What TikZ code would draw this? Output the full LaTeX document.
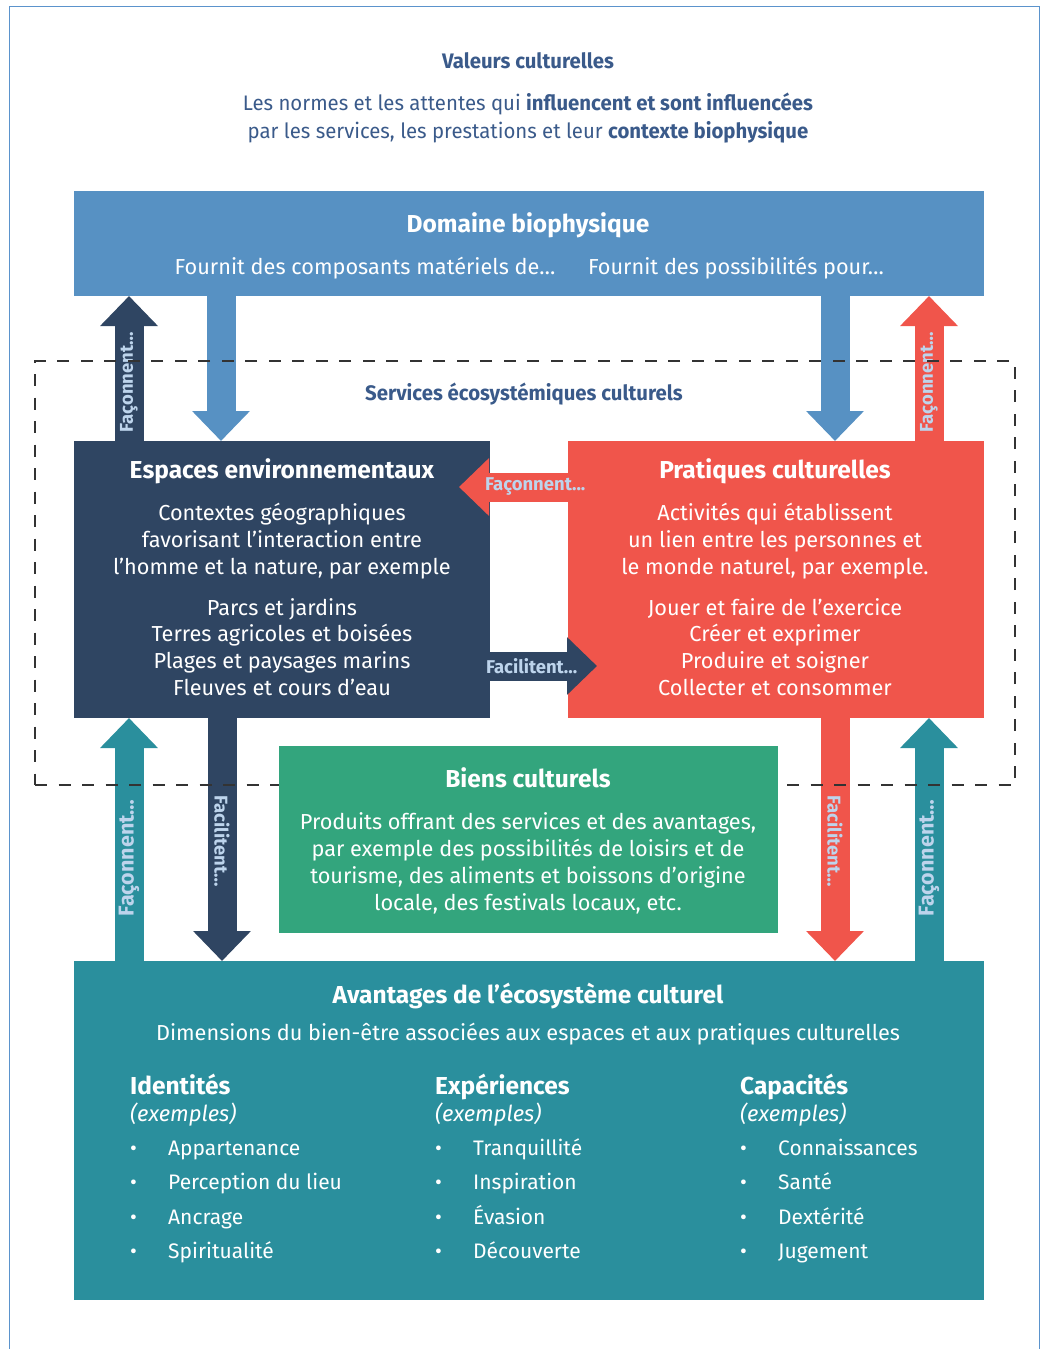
\documentclass[tikz,border=0pt]{standalone}
\usepackage{fontspec}
\setmainfont{Fira Sans}
\newfontfamily\condfont[FakeStretch=0.97]{Fira Sans}
\usetikzlibrary{arrows.meta,calc}
\definecolor{domblue}{HTML}{5791C3}
\definecolor{navy}{HTML}{2F4562}
\definecolor{redc}{HTML}{F0554B}
\definecolor{tealc}{HTML}{2A8F9D}
\definecolor{greenc}{HTML}{33A57D}
\definecolor{labcol}{HTML}{BDD4EC}
\definecolor{dtxt}{HTML}{3A5A8A}
\definecolor{framecol}{HTML}{5B93CC}
\begin{document}
\begin{tikzpicture}[x=1pt,y=-1pt,
  box/.style={draw=none,anchor=north west,inner sep=0pt,outer sep=0pt},
  ttl/.style={text=white,font=\fontsize{24.5}{28}\selectfont\bfseries,anchor=base,inner sep=0pt},
  txt/.style={text=white,font=\fontsize{21.7}{27}\selectfont,anchor=base,inner sep=0pt},
  txtl/.style={txt,anchor=base west},
  itm/.style={txtl,font=\fontsize{21}{27}\selectfont},
  toptxt/.style={text=dtxt,font=\fontsize{21}{24}\selectfont\condfont,anchor=base,inner sep=0pt},
  blk/.style={line width=29pt,-{Triangle[length=30pt,width=56pt]}},
  lab/.style={text=labcol,font=\fontsize{18.5}{20}\selectfont\bfseries,inner sep=0pt,outer sep=0pt},
  labbig/.style={lab,font=\fontsize{21.5}{24}\selectfont\bfseries}
]
\useasboundingbox (0,0) rectangle (1041,1349);
\draw[framecol,line width=1pt] (9,1349) -- (9,6) -- (1039,6) -- (1039,1349);

% top texts
\node[toptxt,font=\fontsize{21}{24}\selectfont\condfont\bfseries] (val) at (528,68) {Valeurs culturelles};
\node[toptxt] (val1) at (528,110) {Les normes et les attentes qui \textbf{influencent et sont influencées}};
\node[toptxt] (val2) at (528,138) {par les services, les prestations et leur \textbf{contexte biophysique}};

% boxes
\node[box,fill=domblue,minimum width=910pt,minimum height=105pt] (dom) at (74,191) {};
\node[box,fill=navy,minimum width=416pt,minimum height=277pt] (esp) at (74,441) {};
\node[box,fill=redc,minimum width=416pt,minimum height=277pt] (prat) at (568,441) {};
\node[box,fill=tealc,minimum width=910pt,minimum height=339pt] (tea) at (74,961) {};

% Domaine texts
\node[ttl] (domt) at (528,232) {Domaine biophysique};
\node[txt] (doma) at (365,274) {Fournit des composants matériels de…};
\node[txt] (domb) at (736,274) {Fournit des possibilités pour…};

% Espaces texts
\node[ttl] (espt) at (282,478) {Espaces environnementaux};
\foreach \t [count=\i] in {{Contextes géographiques},{favorisant l’interaction entre},{l’homme et la nature, par exemple}}
  \node[txt] (espa\i) at (282,{520+27*(\i-1)}) {\t};
\foreach \t [count=\i] in {{Parcs et jardins},{Terres agricoles et boisées},{Plages et paysages marins},{Fleuves et cours d’eau}}
  \node[txt] (espb\i) at (282,{615+26.7*(\i-1)}) {\t};

% Pratiques texts
\node[ttl] (pratt) at (775,478) {Pratiques culturelles};
\foreach \t [count=\i] in {{Activités qui établissent},{un lien entre les personnes et},{le monde naturel, par exemple.}}
  \node[txt] (prata\i) at (775,{520+27*(\i-1)}) {\t};
\foreach \t [count=\i] in {{Jouer et faire de l’exercice},{Créer et exprimer},{Produire et soigner},{Collecter et consommer}}
  \node[txt] (pratb\i) at (775,{615+26.7*(\i-1)}) {\t};

% arrows between domain and boxes
\coordinate (a1s) at ($(esp.north west)+(55,0)$);
\coordinate (a1e) at ($(dom.south west)+(55,0)$);
\draw[blk,navy] (a1s) -- (a1e) node[lab,pos=0.06,rotate=90,anchor=west] (l1) {Façonnent…};
\coordinate (a2s) at ($(dom.south west)+(147,0)$);
\coordinate (a2e) at ($(esp.north west)+(147,0)$);
\draw[blk,domblue] (a2s) -- (a2e);
\coordinate (a3s) at ($(dom.south west)+(761,0)$);
\coordinate (a3e) at ($(prat.north west)+(267,0)$);
\draw[blk,domblue] (a3s) -- (a3e);
\coordinate (a4s) at ($(prat.north west)+(361,0)$);
\coordinate (a4e) at ($(dom.south west)+(855,0)$);
\draw[blk,redc] (a4s) -- (a4e) node[lab,pos=0.06,rotate=90,anchor=west] (l4) {Façonnent…};

% horizontal arrows
\coordinate (a5s) at ($(prat.north west)+(0,46)$);
\coordinate (a5e) at ($(esp.north east)+(-31,46)$);
\draw[blk,redc] (a5s) -- (a5e) node[lab,pos=0.3] (l5) {Façonnent...};
\coordinate (a6s) at ($(esp.north east)+(0,225)$);
\coordinate (a6e) at ($(prat.north west)+(29,225)$);
\draw[blk,navy] (a6s) -- (a6e) node[lab,pos=0.39] (l6) {Facilitent...};

% bottom arrows
\coordinate (a7s) at ($(tea.north west)+(55,0)$);
\coordinate (a7e) at ($(esp.south west)+(55,0)$);
\draw[blk,tealc] (a7s) -- (a7e) node[labbig,pos=0.185,rotate=90,anchor=west] (l7) {Façonnent…};
\coordinate (a8s) at ($(esp.south west)+(148,0)$);
\coordinate (a8e) at ($(tea.north west)+(148,0)$);
\draw[blk,navy] (a8s) -- (a8e) node[lab,pos=0.32,rotate=-90,anchor=west] (l8) {Facilitent…};
\coordinate (a9s) at ($(prat.south west)+(267,0)$);
\coordinate (a9e) at ($(tea.north west)+(761,0)$);
\draw[blk,redc] (a9s) -- (a9e) node[lab,pos=0.32,rotate=-90,anchor=west] (l9) {Facilitent…};
\coordinate (a10s) at ($(tea.north west)+(855,0)$);
\coordinate (a10e) at ($(prat.south west)+(361,0)$);
\draw[blk,tealc] (a10s) -- (a10e) node[labbig,pos=0.185,rotate=90,anchor=west] (l10) {Façonnent…};

% dashed services frame
\node[box,draw=black!80,line width=1.2pt,dash pattern=on 12pt off 11.5pt,minimum width=980pt,minimum height=424pt] (serv) at (35,361) {};
\node[toptxt,font=\fontsize{21}{24}\selectfont\condfont\bfseries] (servt) at (524,400) {Services écosystémiques culturels};

% green box
\node[box,fill=greenc,minimum width=499pt,minimum height=187pt] (bien) at (279,746) {};
\node[ttl] (bient) at (528,787) {Biens culturels};
\foreach \t [count=\i] in {{Produits offrant des services et des avantages,},{par exemple des possibilités de loisirs et de},{tourisme, des aliments et boissons d’origine},{locale, des festivals locaux, etc.}}
  \node[txt] (biena\i) at (528,{829+27*(\i-1)}) {\t};

% teal texts
\node[ttl] (teat) at (528,1003) {Avantages de l’écosystème culturel};
\node[txt] (teas) at (528,1040) {Dimensions du bien-être associées aux espaces et aux pratiques culturelles};

\foreach \x/\h/\n [count=\j] in {130/Identités/{Appartenance,Perception du lieu,Ancrage,Spiritualité},435/Expériences/{Tranquillité,Inspiration,Évasion,Découverte},740/Capacités/{Connaissances,Santé,Dextérité,Jugement}} {
  \node[ttl,anchor=base west] (ch\j) at (\x,1094) {\h};
  \node[txtl,font=\fontsize{22}{24}\selectfont\itshape] (ce\j) at (\x,1121) {(exemples)};
  \foreach \itm [count=\k] in \n {
    \node[itm] (cb\j\k) at ({\x+0},{1155+34.5*(\k-1)}) {•};
    \node[itm] (ci\j\k) at ({\x+38},{1155+34.5*(\k-1)}) {\itm};
  }
}
\end{tikzpicture}
\end{document}
